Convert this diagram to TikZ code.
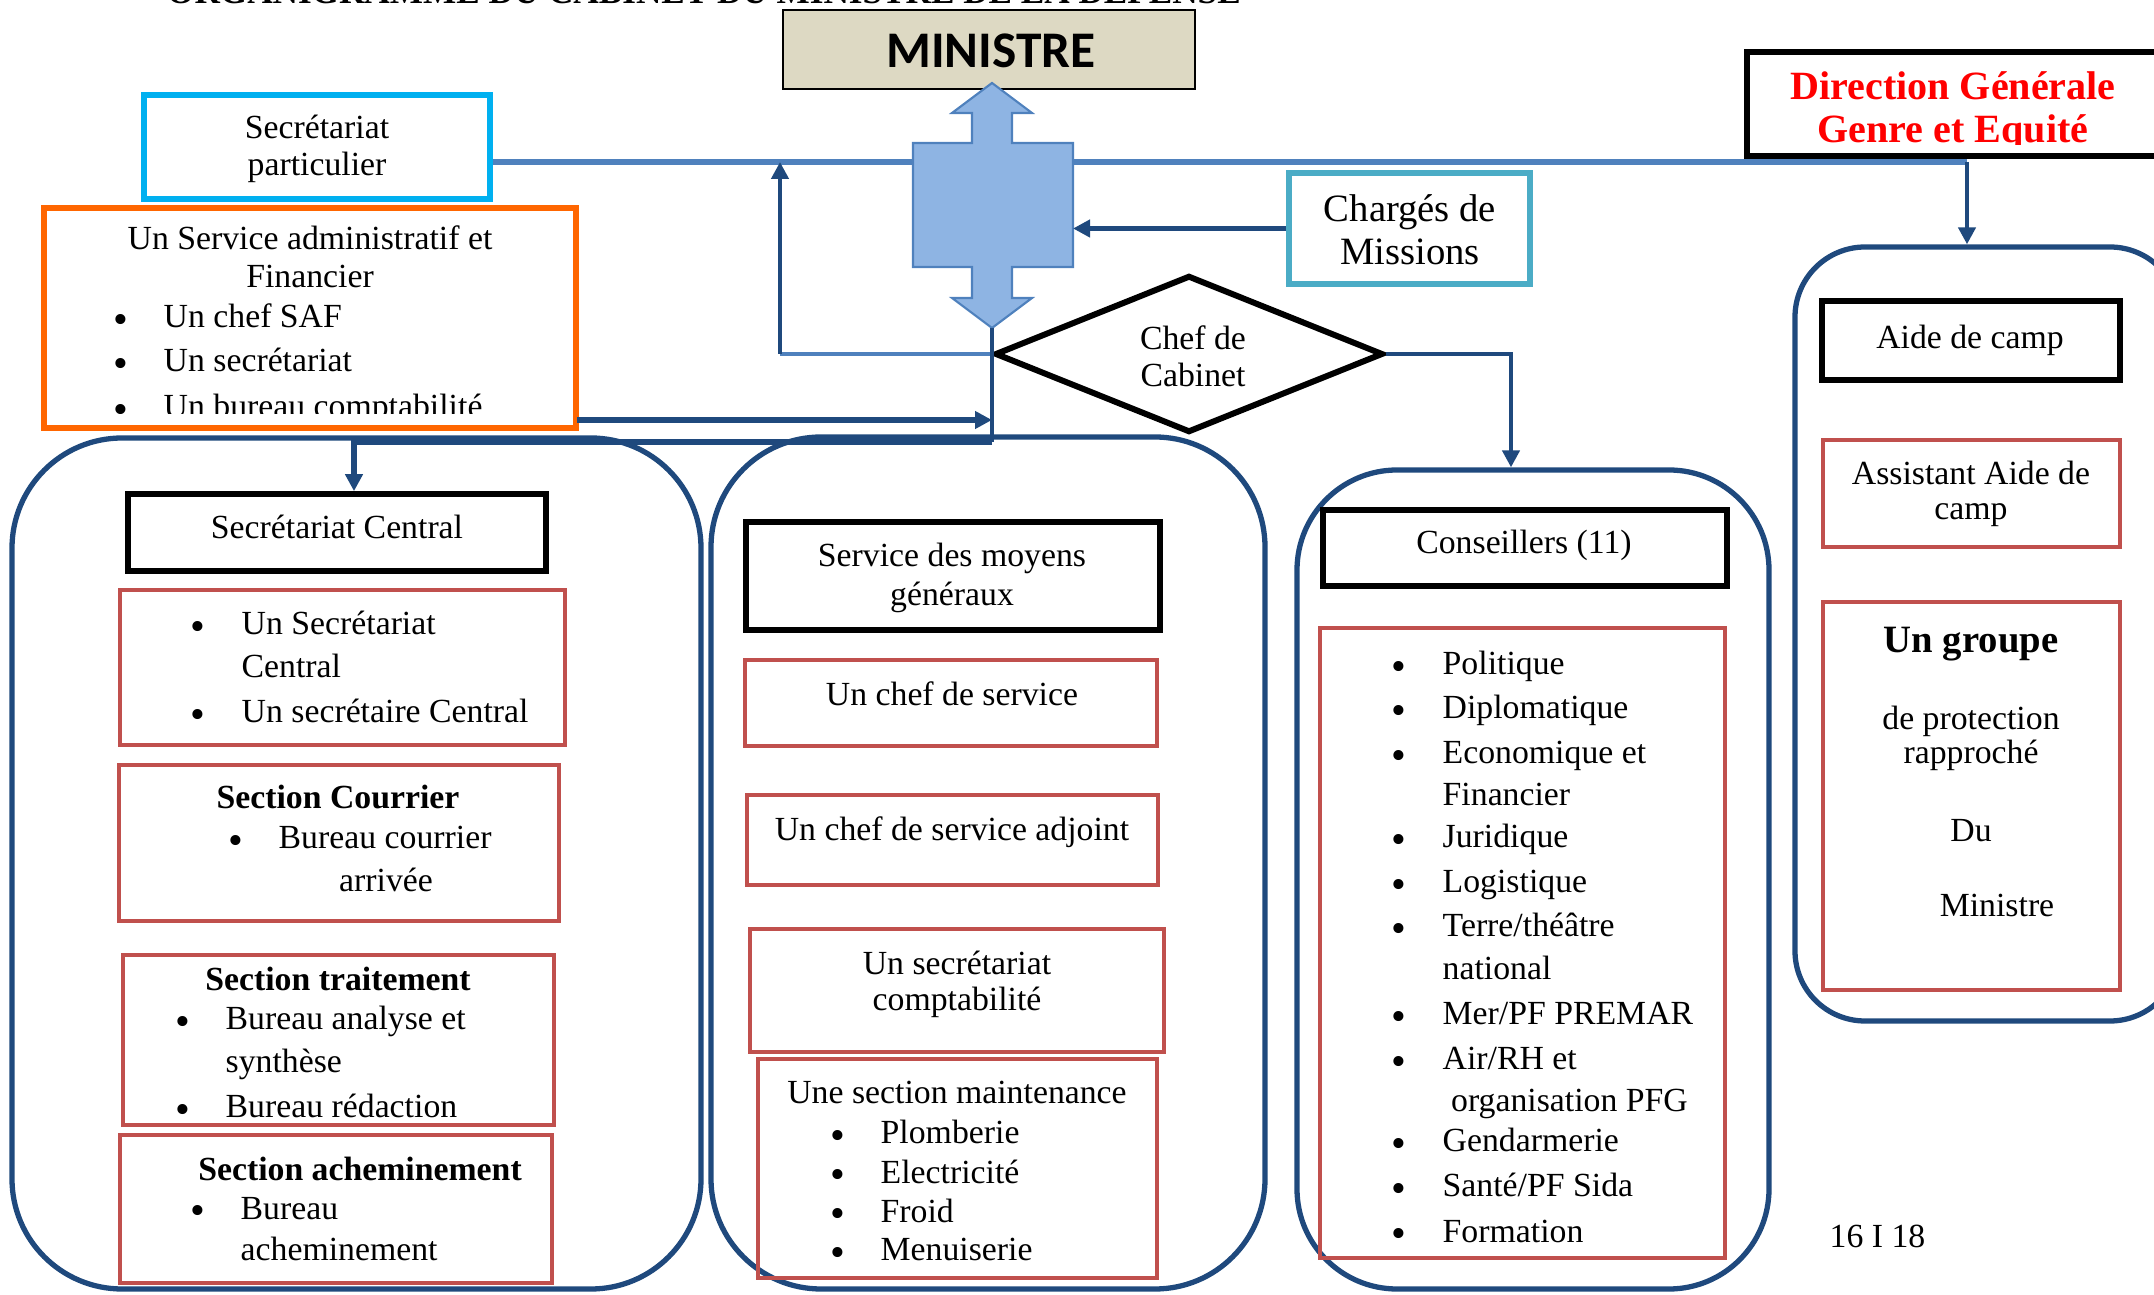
\documentclass[tikz,border=0pt]{standalone}
\usepackage{fontspec}
\setmainfont{Liberation Serif}
\newfontfamily\calibri{Carlito}
\usetikzlibrary{arrows.meta,shapes.geometric,fit}

\definecolor{fondmin}{HTML}{DDD9C3}
\definecolor{cyanbord}{HTML}{00B0F0}
\definecolor{orangebord}{HTML}{FF6600}
\definecolor{bleuacier}{HTML}{4F81BD}
\definecolor{bleufonce}{HTML}{1F497D}
\definecolor{bleuclair}{HTML}{8EB4E3}
\definecolor{turquoise}{HTML}{4BACC6}
\definecolor{rougebord}{HTML}{C0504D}

\newcommand{\puce}{\raisebox{-0.14em}{\textbullet}}

\tikzset{
  txt/.style={font=\fontsize{9.6}{11}\selectfont, inner sep=0pt, anchor=base},
  txtg/.style={txt, anchor=base west},
  gras/.style={txt, font=\fontsize{9.6}{11}\selectfont\bfseries},
  pucenode/.style={txt, font=\fontsize{12}{12}\selectfont},
  cadre/.style={inner sep=0pt, line width=1.6pt},
  noirbox/.style={cadre, draw=black},
  rougebox/.style={cadre, draw=rougebord, line width=1.3pt},
  groupe/.style={draw=bleufonce, line width=1.5pt, inner sep=0pt, rounded corners=1.1cm},
  lien/.style={draw=bleufonce, line width=1.35pt},
  fleche/.style={lien, -{Triangle[length=0.17cm,width=0.17cm]}},
  ligne/.style={draw=bleuacier, line width=1.7pt},
}

\begin{document}
\begin{tikzpicture}[x=0.01cm, y=-0.01cm]
\useasboundingbox (0,0) rectangle (2154,1295);

% titre, coupe en haut
\node[txt, font=\fontsize{10}{12}\selectfont\bfseries] (titre) at (704,4) {ORGANIGRAMME DU CABINET DU MINISTRE DE LA DEFENSE};

% les grands cadres arrondis
\node[groupe, fit={(12,438) (701,1289)}] (grp-sec) {};
\node[groupe, fit={(711,437) (1265,1289)}] (grp-moyens) {};
\node[groupe, rounded corners=1cm, fit={(1297,470) (1769,1289)}] (grp-cons) {};
\node[groupe, rounded corners=0.7cm, fit={(1795,247) (2180,1021)}] (grp-aide) {};

% ministre
\node[draw, fill=fondmin, line width=0.5pt, inner sep=0pt, fit={(783,10) (1195,89)}] (ministre) {};
\node[txt, font=\calibri\bfseries\fontsize{14.6}{16}\selectfont] (ministre-t) at (991,68) {MINISTRE};

% secretariat particulier
\node[cadre, draw=cyanbord, line width=1.7pt, fit={(144,95) (490,199)}] (secpart) {};
\node[txt] (secpart-t1) at (317,139) {Secrétariat};
\node[txt] (secpart-t2) at (317,176) {particulier};

% service administratif et financier
\node[cadre, draw=orangebord, line width=1.6pt, fit={(44,208) (576,428)}] (saf) {};
\begin{scope}
  \clip (44,208) rectangle (576,414);
  \node[txt] (saf-t1) at (310,250) {Un Service administratif et};
  \node[txt] (saf-t2) at (310,288) {Financier};
  \foreach \yy/\t in {328/{Un chef SAF}, 372/{Un secrétariat}, 418/{Un bureau comptabilité}}{
    \node[pucenode] (saf-p\yy) at (121,\yy) {\puce};
    \node[txtg] (saf-\yy) at (163,\yy) {\t};
  }
\end{scope}

% direction generale
\node[cadre, draw=black, line width=1.7pt, fit={(1747,52) (2180,156)}] (dg) {};
\begin{scope}
  \clip (1747,52) rectangle (2154,145);
  \node[txt, font=\fontsize{11.4}{13}\selectfont\bfseries, text=red] (dg-t1) at (1953,100) {Direction Générale};
  \node[txt, font=\fontsize{11.4}{13}\selectfont\bfseries, text=red] (dg-t2) at (1953,143) {Genre et Equité};
\end{scope}

% charges de missions
\node[cadre, draw=turquoise, line width=1.6pt, fit={(1289,173) (1530,284)}] (charges) {};
\node[txt, font=\fontsize{11}{13}\selectfont] (charges-t1) at (1410,222) {Chargés de};
\node[txt, font=\fontsize{11}{13}\selectfont] (charges-t2) at (1410,265) {Missions};

% liaisons du haut
\coordinate (dgcoin) at (1967,162);
\draw[ligne] (secpart.east |- dgcoin) -- (dgcoin);
\draw[fleche] (dgcoin) -- (dgcoin |- grp-aide.north);

% double fleche du ministre
\filldraw[fill=bleuclair, draw=bleuacier, line width=0.6pt]
  (992,83) -- (1032,113) -- (1012,113) -- (1012,143) -- (1073,143) -- (1073,267)
  -- (1012,267) -- (1012,298) -- (1032,298) -- (992,328) -- (952,298) -- (972,298)
  -- (972,267) -- (913,267) -- (913,143) -- (972,143) -- (972,113) -- (952,113) -- cycle;
\coordinate (dbl-bas) at (992,328);
\coordinate (dbl-est) at (1073,225);

\draw[fleche, line width=1.6pt] (charges.west) -- (charges.west -| dbl-est);

% chef de cabinet
\node[diamond, draw, line width=1.7pt, minimum width=3.88cm, minimum height=1.57cm, inner sep=0pt] (chef) at (1189,354) {};
\node[txt] (chef-t1) at (1193,350) {Chef de};
\node[txt] (chef-t2) at (1193,387) {Cabinet};

\coordinate (retour) at (780,354);
\draw[ligne, line width=1.4pt] (chef.west) -- (retour);
\draw[fleche] (retour) -- (retour |- dgcoin);

\coordinate (noeud) at (992,442);
\coordinate (descente) at (354,442);
\draw[lien] (dbl-bas) -- (noeud);
\coordinate (safsortie) at (577,420);
\draw[fleche, line width=1.6pt] (safsortie) -- (safsortie -| noeud);

\coordinate (conscoude) at (1511,354);
\draw[fleche] (chef.east) -- (conscoude) -- (conscoude |- grp-cons.north);

% secretariat central
\node[noirbox, fit={(128,494) (546,571)}] (secc) {};
\node[txt] (secc-t) at (337,539) {Secrétariat Central};
\draw[fleche, line width=1.6pt] (noeud) -- (descente) -- (descente |- secc.north);

\node[rougebox, fit={(120,590) (565,745)}] (secc-l) {};
\foreach \p/\yy/\t in {1/635/{Un Secrétariat}, 0/678/{Central}, 1/723/{Un secrétaire Central}}{
  \node[txtg] (secc-\yy) at (241,\yy) {\t};
  \ifnum\p=1 \node[pucenode] (secc-p\yy) at (198,\yy) {\puce}; \fi
}

\node[rougebox, fit={(119,765) (559,921)}] (courrier) {};
\node[gras] (courrier-t) at (338,809) {Section Courrier};
\node[pucenode] (courrier-p) at (236,849) {\puce};
\node[txtg] (courrier-1) at (278,849) {Bureau courrier};
\node[txt] (courrier-2) at (386,892) {arrivée};

\node[rougebox, fit={(123,955) (554,1125)}] (traitement) {};
\node[gras] (traitement-t) at (338,991) {Section traitement};
\foreach \p/\yy/\t in {1/1030/{Bureau analyse et}, 0/1073/{synthèse}, 1/1118/{Bureau rédaction}}{
  \node[txtg] (traitement-\yy) at (225,\yy) {\t};
  \ifnum\p=1 \node[pucenode] (traitement-p\yy) at (183,\yy) {\puce}; \fi
}

\node[rougebox, fit={(120,1135) (552,1283)}] (achem) {};
\node[gras] (achem-t) at (360,1181) {Section acheminement};
\node[pucenode] (achem-p) at (198,1219) {\puce};
\node[txtg] (achem-1) at (240,1219) {Bureau};
\node[txtg] (achem-2) at (240,1261) {acheminement};

% service des moyens generaux
\node[noirbox, fit={(746,522) (1160,630)}] (smg) {};
\node[txt] (smg-t1) at (952,567) {Service des moyens};
\node[txt] (smg-t2) at (952,606) {généraux};

\node[rougebox, fit={(745,660) (1157,746)}] (chefserv) {};
\node[txt] (chefserv-t) at (952,706) {Un chef de service};

\node[rougebox, fit={(747,795) (1158,885)}] (adjoint) {};
\node[txt] (adjoint-t) at (952,841) {Un chef de service adjoint};

\node[rougebox, fit={(750,929) (1164,1052)}] (compta) {};
\node[txt] (compta-t1) at (957,975) {Un secrétariat};
\node[txt] (compta-t2) at (957,1011) {comptabilité};

\node[rougebox, fit={(758,1059) (1157,1278)}] (maint) {};
\node[txt] (maint-t) at (957,1104) {Une section maintenance};
\foreach \yy/\t in {1144/Plomberie, 1183/Electricité, 1222/Froid, 1261/Menuiserie}{
  \node[pucenode] (maint-p\yy) at (838,\yy) {\puce};
  \node[txtg] (maint-\yy) at (880,\yy) {\t};
}

% conseillers
\node[noirbox, fit={(1323,510) (1727,586)}] (cons) {};
\node[txt] (cons-t) at (1524,554) {Conseillers (11)};

\node[rougebox, fit={(1320,628) (1725,1258)}] (cons-l) {};
\foreach \p/\yy/\t in {1/675/{Politique}, 1/719/{Diplomatique}, 1/764/{Economique et}, 0/806/{Financier},
    1/848/{Juridique}, 1/893/{Logistique}, 1/937/{Terre/théâtre}, 0/980/{national},
    1/1025/{Mer/PF PREMAR}, 1/1070/{Air/RH et}, 0/1112/{\ organisation PFG},
    1/1152/{Gendarmerie}, 1/1197/{Santé/PF Sida}, 1/1242/{Formation}}{
  \node[txtg] (cons-\yy) at (1442,\yy) {\t};
  \ifnum\p=1 \node[pucenode] (cons-p\yy) at (1399,\yy) {\puce}; \fi
}

% aide de camp
\node[noirbox, fit={(1822,301) (2120,380)}] (aide) {};
\node[txt] (aide-t) at (1970,349) {Aide de camp};

\node[rougebox, fit={(1823,440) (2120,547)}] (assistant) {};
\node[txt] (assistant-t1) at (1971,485) {Assistant Aide de};
\node[txt] (assistant-t2) at (1971,520) {camp};

\node[rougebox, fit={(1823,602) (2120,990)}] (gpr) {};
\node[txt, font=\fontsize{11}{13}\selectfont\bfseries] (gpr-t1) at (1971,653) {Un groupe};
\node[txt] (gpr-t2) at (1971,730) {de protection};
\node[txt] (gpr-t3) at (1971,764) {rapproché};
\node[txt] (gpr-t4) at (1971,842) {Du};
\node[txt] (gpr-t5) at (1997,917) {Ministre};

\node[txtg] (page) at (1829,1248) {16 I 18};

\end{tikzpicture}
\end{document}
